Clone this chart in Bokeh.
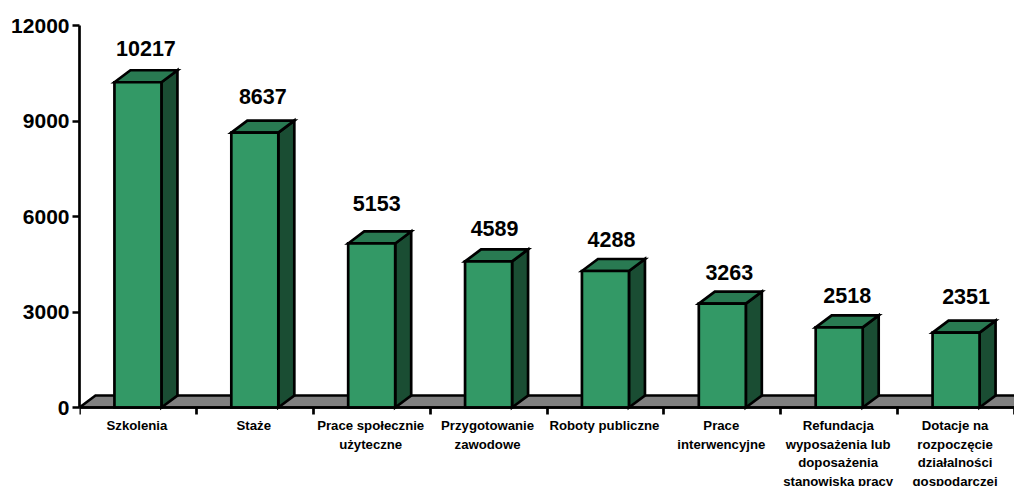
from bokeh.plotting import figure
from bokeh.models import ColumnDataSource, LabelSet, FixedTicker, Range1d, LinearAxis
from bokeh.core.properties import value
from bokeh.embed import file_html
from bokeh.resources import INLINE

categories = ["Szkolenia", "Staże", "Prace społecznie\nużyteczne", "Przygotowanie\nzawodowe",
              "Roboty publiczne", "Prace\ninterwencyjne",
              "Refundacja\nwyposażenia lub\ndoposażenia\nstanowiska pracy",
              "Dotacje na\nrozpoczęcie\ndziałalności\ngospodarczej"]
values = [10217, 8637, 5153, 4589, 4288, 3263, 2518, 2351]
y_ticks = [0, 3000, 6000, 9000, 12000]
label_dx = [8, 8, 5, 6, 6, 7, 8, 10]
label_dy = [34, 36, 40, 33, 31, 31, 32, 36]

FRONT, SIDE, TOP, FLOOR = "#339966", "#1A4D33", "#297A52", "#808080"
FONT = "Liberation Sans"
W, H = 1014, 486
L, T, B = 79, 25, 79
PX_X = (W - L) / len(values)
PX_Y = (H - T - B) / 12000
DX, DY = 16 / PX_X, 12 / PX_Y
BAR = 47 / PX_X
LW = 2.7

# The frame reaches the page's bottom edge so that the category labels below y=0 are drawn.
p = figure(width=W, height=H, output_backend="svg", toolbar_location=None,
           x_range=Range1d(0, len(values)), y_range=Range1d(-B / PX_Y, 12000),
           min_border_left=L, min_border_right=0, min_border_top=T, min_border_bottom=0,
           x_axis_location=None, y_axis_location="left")
p.outline_line_color = None
p.grid.visible = False

centres = [i + 0.5 for i in range(len(values))]

# floor
p.patch([0, DX, len(values) + 1, len(values)], [0, DY, DY, 0],
        fill_color=FLOOR, line_color="black", line_width=LW, line_join="miter")

lefts = [c - BAR / 2 for c in centres]
rights = [c + BAR / 2 for c in centres]
p.patches([[r, r + DX, r + DX, r] for r in rights],
          [[0, DY, v + DY, v] for v in values],
          fill_color=SIDE, line_color="black", line_width=LW, line_join="miter")
p.patches([[l, l + DX, r + DX, r] for l, r in zip(lefts, rights)],
          [[v, v + DY, v + DY, v] for v in values],
          fill_color=TOP, line_color="black", line_width=LW, line_join="miter")
p.vbar(x=centres, width=BAR, bottom=0, top=values,
       fill_color=FRONT, line_color="black", line_width=LW, line_join="miter")

# axes
p.yaxis.bounds = (0, 12000)
p.yaxis.ticker = FixedTicker(ticks=y_ticks)
p.yaxis.minor_tick_line_color = None
p.yaxis.major_tick_in = 0
p.yaxis.major_tick_out = 7
p.yaxis.major_tick_line_width = LW
p.yaxis.major_tick_line_color = "black"
p.yaxis.axis_line_width = LW
p.yaxis.axis_line_color = "black"
p.yaxis.major_label_text_font = FONT
p.yaxis.major_label_text_font_style = "bold"
p.yaxis.major_label_text_font_size = "21px"
p.yaxis.major_label_text_color = "black"
p.yaxis.major_label_standoff = 3

boundaries = list(range(len(values) + 1))
xaxis = LinearAxis(fixed_location=0, ticker=FixedTicker(ticks=boundaries),
                   major_label_overrides={b: "" for b in boundaries},
                   minor_tick_line_color=None, major_tick_in=0, major_tick_out=7,
                   major_tick_line_width=LW, major_tick_line_color="black",
                   axis_line_width=LW, axis_line_color="black")
p.add_layout(xaxis, "below")

# value labels
vals_src = ColumnDataSource(dict(x=centres, y=values, t=[str(v) for v in values],
                                 dx=label_dx, dy=label_dy))
p.add_layout(LabelSet(x="x", y="y", text="t", source=vals_src, x_offset="dx", y_offset="dy",
                      text_align="center", text_baseline="middle", text_font=value(FONT),
                      text_font_style="bold", text_font_size="21.5px", text_color="black"))

# category labels, one row per line of text
xs, offs, ts = [], [], []
for c, cat in zip(centres, categories):
    for j, line in enumerate(cat.split("\n")):
        xs.append(c)
        offs.append(-(18 + j * 18.5))
        ts.append(line)
cat_src = ColumnDataSource(dict(x=xs, y=[0] * len(xs), off=offs, t=ts))
p.add_layout(LabelSet(x="x", y="y", text="t", source=cat_src, x_offset=-1, y_offset="off",
                      text_align="center", text_baseline="middle", text_font=value(FONT),
                      text_font_style="bold", text_font_size="13.2px", text_color="black"))

open("out.html", "w").write(file_html(p, INLINE))
